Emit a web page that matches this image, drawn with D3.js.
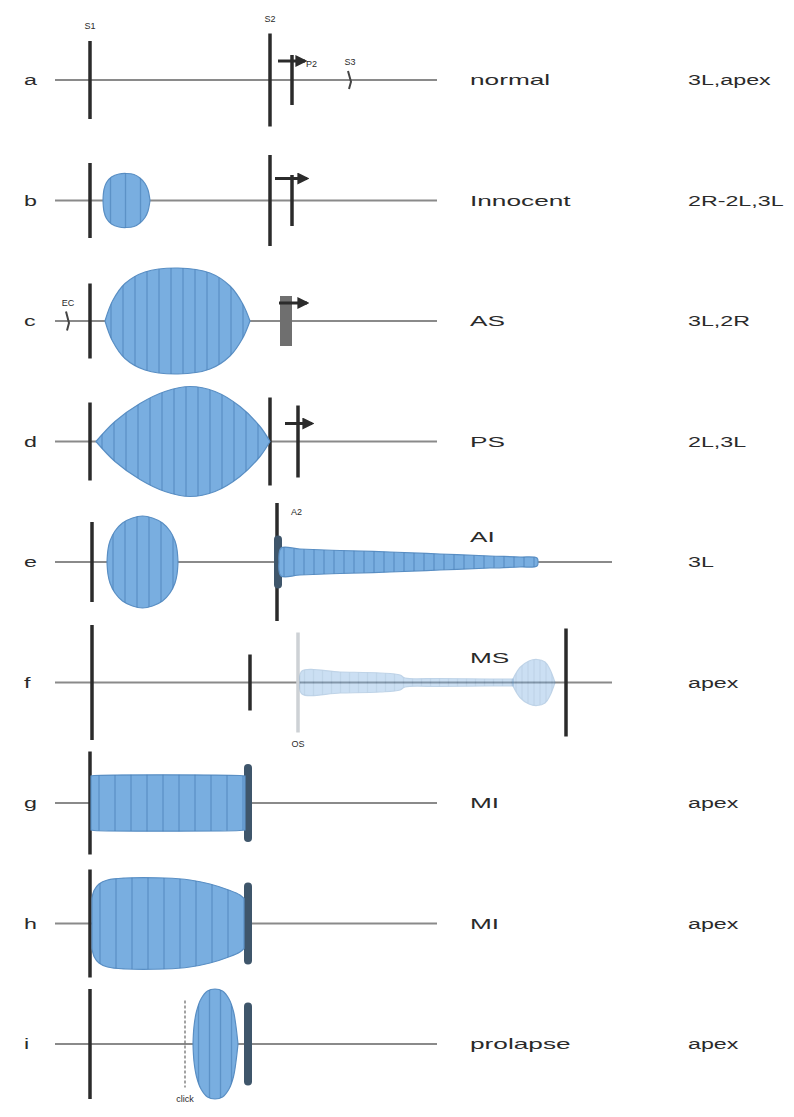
<!DOCTYPE html>
<html>
<head>
<meta charset="utf-8">
<script src="https://cdn.jsdelivr.net/npm/d3@7"></script>
<style>
  body { margin: 0; background: #fff; }
  svg text { font-family: "Liberation Sans", Arial, sans-serif; fill: #2a2a2a; }
</style>
</head>
<body>
<div id="chart"></div>
<script>
// rows of the phonocardiogram
const rowLetters = ['a', 'b', 'c', 'd', 'e', 'f', 'g', 'h', 'i'];
const lesions = ['normal', 'Innocent', 'AS', 'PS', 'AI', 'MS', 'MI', 'MI', 'prolapse'];
const sites = ['3L,apex', '2R-2L,3L', '3L,2R', '2L,3L', '3L', 'apex', 'apex', 'apex', 'apex'];
// time (ms after S1) where each trace ends
const traceEnd = [694, 694, 694, 694, 1044, 1044, 694, 694, 694];

// heart sounds per row: time, loudness, kind, label
const sounds = [
  [{ t: 0, a: 7.8, label: 'S1' }, { t: 360, a: 9.3, label: 'S2' }, { t: 404, a: 5.0, label: 'P2', at: 'right' },
   { t: 520, a: 1.8, kind: 'small', label: 'S3' }],
  [{ t: 0, a: 7.5 }, { t: 360, a: 9.1 }, { t: 404, a: 5.1 }],
  [{ t: -44, a: 1.9, kind: 'small', label: 'EC' }, { t: 0, a: 7.5 }, { t: 386, a: 5.0, kind: 'grey' }, { t: 398, a: 5.0, kind: 'grey' }],
  [{ t: 0, a: 7.8 }, { t: 360, a: 8.8 }, { t: 416, a: 7.2 }],
  [{ t: 4, a: 8.0 }, { t: 374, a: 11.8, label: 'A2', at: 'right' }, { t: 376, a: 4.5, kind: 'thick' }],
  [{ t: 4, a: 11.5 }, { t: 320, a: 5.6 }, { t: 416, a: 10.0, kind: 'faint', label: 'OS', at: 'bottom' }, { t: 952, a: 10.8 }],
  [{ t: 0, a: 10.3 }, { t: 316, a: 7.0, kind: 'thick' }],
  [{ t: 0, a: 10.8 }, { t: 316, a: 7.4, kind: 'thick' }],
  [{ t: 0, a: 11.0 }, { t: 190, a: 8.7, kind: 'dashed', label: 'click', at: 'bottom' }, { t: 316, a: 7.5, kind: 'thick' }]
];

// respiratory split of S2: [row, from, to, level]
const splits = [['a', 376, 430, 3.8], ['b', 370, 434, 4.4], ['c', 378, 434, 3.6], ['d', 390, 444, 3.6]];

// murmur envelopes: [time, loudness]
const murmurs = [
  { row: 'b', step: 30, pts: [[26, 0], [28, 2.2], [33, 3.6], [43, 4.7], [58, 5.3], [73, 5.4], [88, 5.2], [100, 4.5], [110, 3.4], [116, 2.1], [120, 0]] },
  { row: 'c', step: 24, pts: [[30, 0], [45, 4], [70, 7.5], [110, 9.8], [176, 10.6], [240, 9.6], [280, 7], [305, 3.5], [320, 0]] },
  { row: 'd', step: 24, pts: [[12, 0], [50, 4], [100, 7.6], [150, 10], [200, 11], [250, 10], [300, 7], [340, 3], [360, 0]] },
  { row: 'e', step: 24, pts: [[34, 0], [36, 2.5], [40, 4.2], [50, 6.2], [65, 7.8], [85, 8.8], [105, 9.2], [125, 8.8], [145, 7.8], [160, 6.2], [170, 4.2], [174, 2.5], [176, 0]] },
  { row: 'e', step: 20, pts: [[378, 0], [382, 2.8], [420, 2.6], [500, 2.3], [600, 2.0], [700, 1.6], [800, 1.2], [860, 1.0], [894, 0.8], [896, 0]] },
  { row: 'f', step: 18, pts: [[420, 0], [424, 2.3], [500, 2.1], [580, 1.9], [620, 1.5], [630, 0.9], [700, 0.8], [800, 0.7], [846, 0.7]] },
  { row: 'f', step: 12, pts: [[846, 0.7], [860, 3], [878, 4.3], [894, 4.6], [910, 4.1], [920, 2.6], [930, 0]] },
  { row: 'g', step: 32, pts: [[2, 5.4], [8, 5.5], [300, 5.5], [310, 5.4]] },
  { row: 'h', step: 32, pts: [[4, 5.0], [8, 6.6], [18, 7.9], [35, 8.7], [70, 9.1], [150, 9.1], [200, 8.7], [240, 7.9], [280, 6.6], [300, 5.7], [308, 5.0]] },
  { row: 'i', step: 22, pts: [[206, 0], [208, 3.5], [213, 6.5], [222, 9], [235, 10.6], [250, 11], [265, 10.6], [278, 9], [287, 6.5], [292, 3.5], [296, 0]] }
];
const fadedRows = ['f'];

const W = 794, H = 1117;
const svg = d3.select('#chart').append('svg').attr('width', W).attr('height', H);

const x = d3.scaleLinear().domain([-70, 1050]).range([55, 615]);
const amp = d3.scaleLinear().domain([0, 10]).range([0, 50]);
const yRow = d3.scalePoint().domain(rowLetters).range([80, 1044]);

const defs = svg.append('defs');
defs.append('marker').attr('id', 'arr').attr('viewBox', '0 0 10 10')
  .attr('refX', 8).attr('refY', 5).attr('markerWidth', 4).attr('markerHeight', 4)
  .attr('orient', 'auto')
  .append('path').attr('d', 'M0,0L10,5L0,10z').attr('fill', '#2b2b2b');

const rows = svg.selectAll('g.row').data(rowLetters).join('g')
  .attr('class', 'row')
  .attr('transform', d => `translate(0,${yRow(d)})`);

// baseline trace
rows.append('line')
  .attr('x1', x(-70)).attr('x2', (d, i) => x(traceEnd[i]))
  .attr('stroke', '#8a8a8a').attr('stroke-width', 2);

// murmurs
const area = d3.area().x(d => x(d[0])).y0(d => -amp(d[1])).y1(d => amp(d[1])).curve(d3.curveCatmullRom.alpha(0.5));
murmurs.forEach((m, k) => {
  const g = svg.append('g').attr('transform', `translate(0,${yRow(m.row)})`)
    .attr('opacity', fadedRows.includes(m.row) ? 0.38 : 1);
  defs.append('clipPath').attr('id', 'clip' + k).append('path').attr('d', area(m.pts));
  g.append('path').attr('d', area(m.pts))
    .attr('fill', '#79aee0').attr('stroke', '#5a8fc4').attr('stroke-width', 1.2);
  const t0 = m.pts[0][0], t1 = m.pts[m.pts.length - 1][0];
  g.append('g').attr('clip-path', `url(#clip${k})`)
    .selectAll('line').data(d3.range(t0 + m.step / 2, t1, m.step)).join('line')
    .attr('x1', d => x(d)).attr('x2', d => x(d))
    .attr('y1', -70).attr('y2', 70)
    .attr('stroke', '#4a7fb6').attr('stroke-opacity', 0.6).attr('stroke-width', 1.3);
});

// split arrows
splits.forEach(s => {
  svg.append('line')
    .attr('x1', x(s[1])).attr('x2', x(s[2]))
    .attr('y1', yRow(s[0]) - amp(s[3])).attr('y2', yRow(s[0]) - amp(s[3]))
    .attr('stroke', '#2b2b2b').attr('stroke-width', 3)
    .attr('marker-end', 'url(#arr)');
});

// heart sounds
const soundStyle = {
  main: { c: '#2b2b2b', w: 3.5, cap: 'butt' },
  grey: { c: '#6f6f6f', w: 6, cap: 'butt' },
  thick: { c: '#3f566b', w: 8, cap: 'round' },
  faint: { c: '#cdd1d5', w: 3.5, cap: 'butt' },
  dashed: { c: '#666', w: 1.2, cap: 'butt', dash: '3,2' },
  small: { c: '#444', w: 2, cap: 'round' }
};
rows.each(function (letter, i) {
  const g = d3.select(this);
  sounds[i].forEach(s => {
    const st = soundStyle[s.kind || 'main'];
    const sx = x(s.t), h = amp(s.a);
    if (s.kind === 'small') {
      g.append('path').attr('d', `M${sx - 2},${-h}L${sx + 1},${h * 0.2}L${sx - 1},${h}`)
        .attr('fill', 'none').attr('stroke', st.c).attr('stroke-width', st.w);
    } else {
      g.append('line').attr('x1', sx).attr('x2', sx).attr('y1', -h).attr('y2', h)
        .attr('stroke', st.c).attr('stroke-width', st.w).attr('stroke-linecap', st.cap)
        .attr('stroke-dasharray', st.dash || null);
    }
    if (s.label) {
      let lx = sx, ly = -h - 12, anchor = 'middle';
      if (s.at === 'right') { lx = sx + 14; ly = -h + 12; anchor = 'start'; }
      if (s.at === 'bottom') { ly = h + 14; }
      if (s.kind === 'small') { ly = -h - 6; }
      g.append('text').attr('x', lx).attr('y', ly).attr('text-anchor', anchor)
        .attr('font-size', 9).text(s.label);
    }
  });
});

// text columns, stretched horizontally like the source
const wide = (sel, tx, ty, k) => sel.attr('transform', (d, i) => `translate(${tx(d, i)},${ty(d, i)}) scale(${k},1)`);
wide(rows.append('text').attr('font-size', 15).text(d => d), () => 24, () => 5, 1.55);
wide(rows.append('text').attr('font-size', 15).text((d, i) => lesions[i]),
  () => 470, (d, i) => traceEnd[i] > 694 ? -20 : 5, 1.75);
wide(rows.append('text').attr('font-size', 15).text((d, i) => sites[i]), () => 688, () => 5, 1.55);
</script>
</body>
</html>
